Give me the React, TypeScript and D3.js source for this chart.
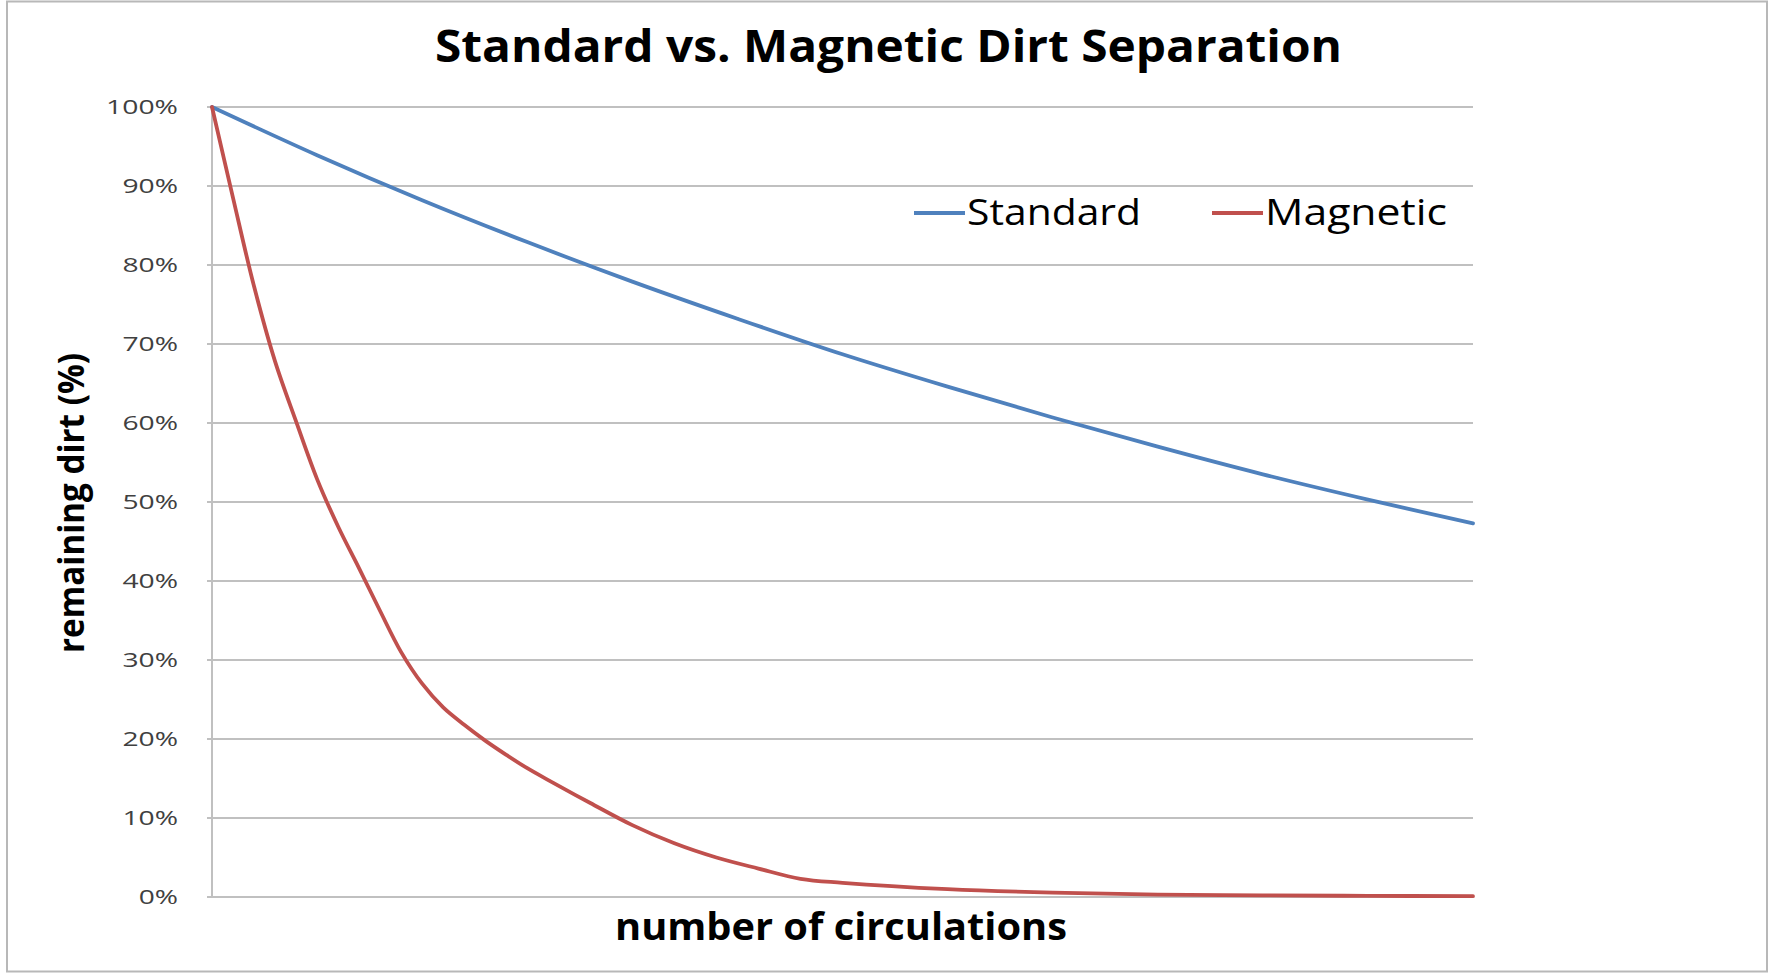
import React, { useEffect, useRef } from 'react';
import * as d3 from 'd3';

// data
const standardX = [0, 5, 10, 15, 20, 25, 30, 35, 40, 45, 50, 55, 60];
const standardY = [100, 93.9, 88.2, 82.9, 77.9, 73.2, 68.7, 64.6, 60.7, 57.0, 53.5, 50.3, 47.3];

const magneticX = [0, 1, 2, 3, 4, 5, 6, 7, 8, 9, 10, 11, 12, 13, 14, 15, 16, 18, 20, 22, 24, 26, 28, 30, 35, 40, 45, 50, 55, 60];
const magneticY = [100, 88.5, 77.3, 67.8, 60.2, 52.9, 46.9, 41.6, 36.2, 31, 27, 24, 21.8, 19.8, 18, 16.3, 14.8, 11.9, 9.1, 6.8, 5.0, 3.6, 2.3, 1.8, 1.0, 0.55, 0.3, 0.2, 0.15, 0.1];

const yTicks = [0, 10, 20, 30, 40, 50, 60, 70, 80, 90, 100];

const seriesNames = ['Standard', 'Magnetic'];
const seriesColors = ['#4F81BD', '#C0504D'];

const W = 1771;
const H = 974;
const FONT = '"Open Sans", sans-serif';

const App = () => {
  const svgRef = useRef<SVGSVGElement | null>(null);

  useEffect(() => {
    const svg = d3.select(svgRef.current);
    svg.selectAll('*').remove();

    const left = 212, right = 1473, top = 107, bottom = 897;

    const x = d3.scaleLinear().domain([0, 60]).range([left, right]);
    const y = d3.scaleLinear().domain([0, 100]).range([bottom, top]);

    svg.append('rect')
      .attr('width', W).attr('height', H).attr('fill', '#fff');

    // chart frame
    svg.append('rect')
      .attr('x', 7).attr('y', 1.5)
      .attr('width', 1760).attr('height', 970)
      .attr('fill', 'none')
      .attr('stroke', '#b8b8b8')
      .attr('stroke-width', 2);

    // gridlines + ticks
    const grid = svg.append('g');
    grid.selectAll('line')
      .data(yTicks)
      .join('line')
        .attr('x1', left - 5)
        .attr('x2', right)
        .attr('y1', d => y(d))
        .attr('y2', d => y(d))
        .attr('stroke', '#c0c0c0')
        .attr('stroke-width', 2);

    // y axis line
    svg.append('line')
      .attr('x1', left).attr('x2', left)
      .attr('y1', top).attr('y2', bottom)
      .attr('stroke', '#c0c0c0')
      .attr('stroke-width', 2);

    // tick labels
    svg.append('g')
      .selectAll('text')
      .data(yTicks)
      .join('text')
        .attr('x', 178)
        .attr('y', d => y(d) + 7)
        .attr('text-anchor', 'end')
        .attr('textLength', d => String(d).length * 16.3 + 23)
        .attr('lengthAdjust', 'spacingAndGlyphs')
        .style('font-family', FONT)
        .style('font-size', '20px')
        .style('fill', '#404040')
        .text(d => `${d}%`);

    // lines
    const line = d3.line<[number, number]>()
      .x(d => x(d[0]))
      .y(d => y(d[1]))
      .curve(d3.curveCatmullRom.alpha(0.5));

    const series = [
      standardX.map((v, i) => [v, standardY[i]] as [number, number]),
      magneticX.map((v, i) => [v, magneticY[i]] as [number, number]),
    ];

    svg.append('g')
      .selectAll('path')
      .data(series)
      .join('path')
        .attr('d', d => line(d))
        .attr('fill', 'none')
        .attr('stroke', (d, i) => seriesColors[i])
        .attr('stroke-width', 3.8)
        .attr('stroke-linejoin', 'round')
        .attr('stroke-linecap', 'round');

    // title
    svg.append('text')
      .attr('x', 435).attr('y', 62)
      .attr('textLength', 907)
      .attr('lengthAdjust', 'spacingAndGlyphs')
      .style('font-family', FONT)
      .style('font-weight', 700)
      .style('font-size', '45px')
      .style('fill', '#000')
      .text('Standard vs. Magnetic Dirt Separation');

    // x axis title
    svg.append('text')
      .attr('x', 615).attr('y', 940)
      .attr('textLength', 452)
      .attr('lengthAdjust', 'spacingAndGlyphs')
      .style('font-family', FONT)
      .style('font-weight', 700)
      .style('font-size', '38px')
      .style('fill', '#000')
      .text('number of circulations');

    // y axis title
    svg.append('text')
      .attr('transform', 'translate(84,653) rotate(-90)')
      .attr('textLength', 300)
      .attr('lengthAdjust', 'spacingAndGlyphs')
      .style('font-family', FONT)
      .style('font-weight', 700)
      .style('font-size', '35px')
      .style('fill', '#000')
      .text('remaining dirt (%)');

    // legend
    const legendPos = [
      { lx: 914, tx: 967, len: 174 },
      { lx: 1212, tx: 1265, len: 182 },
    ];
    const legend = svg.append('g')
      .selectAll('g')
      .data(seriesNames)
      .join('g');

    legend.append('line')
      .attr('x1', (d, i) => legendPos[i].lx)
      .attr('x2', (d, i) => legendPos[i].lx + 51)
      .attr('y1', 213).attr('y2', 213)
      .attr('stroke', (d, i) => seriesColors[i])
      .attr('stroke-width', 3.8);

    legend.append('text')
      .attr('x', (d, i) => legendPos[i].tx)
      .attr('y', 225)
      .attr('textLength', (d, i) => legendPos[i].len)
      .attr('lengthAdjust', 'spacingAndGlyphs')
      .style('font-family', FONT)
      .style('font-size', '36px')
      .style('fill', '#000')
      .text(d => d);
  }, []);

  return (
    <svg
      ref={svgRef}
      width={W}
      height={H}
      style={{ position: 'absolute', left: 0, top: 0, display: 'block' }}
    />
  );
};

export default App;
